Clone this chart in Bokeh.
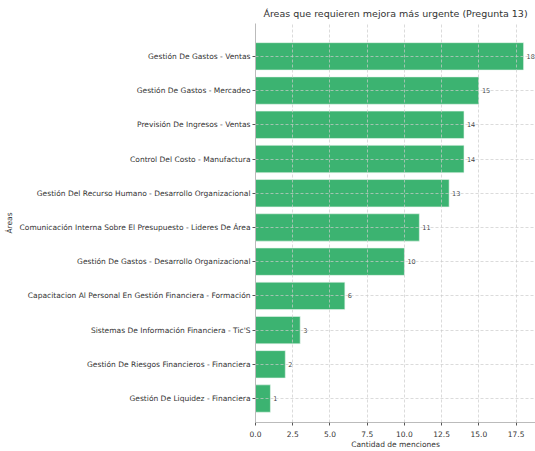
from bokeh.plotting import figure
from bokeh.models import Range1d, ColumnDataSource, FixedTicker, LabelSet
from bokeh.embed import file_html
from bokeh.resources import INLINE
from bokeh.core.properties import value

areas = [
    "Gestión De Gastos - Ventas",
    "Gestión De Gastos - Mercadeo",
    "Previsión De Ingresos - Ventas",
    "Control Del Costo - Manufactura",
    "Gestión Del Recurso Humano - Desarrollo Organizacional",
    "Comunicación Interna Sobre El Presupuesto - Lideres De Área",
    "Gestión De Gastos - Desarrollo Organizacional",
    "Capacitacion Al Personal En Gestión Financiera - Formación",
    "Sistemas De Información Financiera - Tic'S",
    "Gestión De Riesgos Financieros - Financiera",
    "Gestión De Liquidez - Financiera",
]
menciones = [18, 15, 14, 14, 13, 11, 10, 6, 3, 2, 1]
x_ticks = [0, 2.5, 5, 7.5, 10, 12.5, 15, 17.5]

n = len(areas)
pos = [n - 1 - i for i in range(n)]  # first area on top
src = ColumnDataSource(dict(y=pos, n=menciones,
                            lx=[v + 0.2 for v in menciones],
                            lab=[str(v) for v in menciones]))

FONT = "DejaVu Sans"
p = figure(width=535, height=451, output_backend="svg", toolbar_location=None,
           y_range=Range1d(-0.7, n - 1 + 0.96),
           x_range=Range1d(0, 18.8),
           min_border_left=255, min_border_right=0, min_border_top=23, min_border_bottom=28)

p.hbar(y="y", right="n", left=0, height=0.8, source=src,
       fill_color="#3cb371", line_color="#e8f5ec", line_width=0.6)

labels = LabelSet(x="lx", y="y", text="lab", source=src, text_font_size="6.5px",
                  text_color="#444444", text_baseline="middle", text_font=value(FONT))
p.add_layout(labels)

p.title.text = "Áreas que requieren mejora más urgente (Pregunta 13)"
p.title.align = "center"
p.title.text_font = FONT
p.title.text_font_size = "9.5px"
p.title.text_font_style = "normal"
p.title.text_color = "#333333"

p.xaxis.ticker = FixedTicker(ticks=x_ticks)
p.xaxis.major_label_overrides = {t: f"{t:.1f}" for t in x_ticks}
p.yaxis.ticker = FixedTicker(ticks=pos)
p.yaxis.major_label_overrides = {pv: a for pv, a in zip(pos, areas)}
p.xaxis.axis_label = "Cantidad de menciones"
p.yaxis.axis_label = "Áreas"
for ax in (p.xaxis[0], p.yaxis[0]):
    ax.axis_label_text_font = FONT
    ax.axis_label_text_font_size = "7.5px"
    ax.axis_label_text_font_style = "normal"
    ax.axis_label_text_color = "#333333"
    ax.major_label_text_font = FONT
    ax.major_label_text_font_size = "7.5px"
    ax.major_label_text_color = "#333333"
    ax.axis_line_color = "#bbbbbb"
    ax.major_tick_line_color = "#555555"
    ax.major_tick_out = 3
    ax.major_tick_in = 0
    ax.minor_tick_line_color = None
p.xaxis.major_label_standoff = 5
p.yaxis.major_label_standoff = 2
p.xaxis.axis_label_standoff = 0
p.yaxis.axis_label_standoff = 3

for g in (p.xgrid[0], p.ygrid[0]):
    g.grid_line_color = "#cccccc"
    g.grid_line_dash = "3 2"
    g.grid_line_alpha = 0.7
    g.level = "overlay"

p.outline_line_color = None
p.background_fill_color = "white"
p.border_fill_color = "white"

open("out.html", "w").write(file_html(p, INLINE))
